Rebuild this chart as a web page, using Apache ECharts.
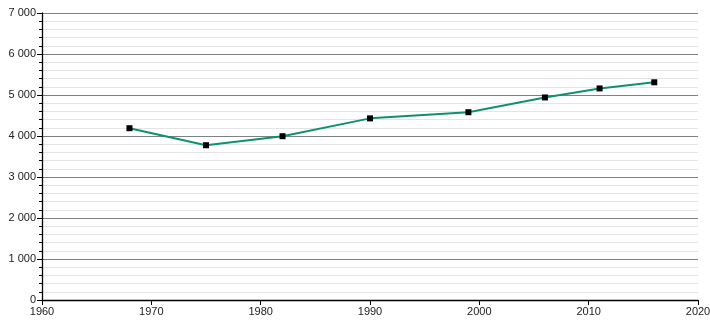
<!DOCTYPE html>
<html><head><meta charset="utf-8">
<script src="https://cdn.jsdelivr.net/npm/echarts@6/dist/echarts.min.js"></script>
<style>html,body{margin:0;padding:0;background:#fff}#c{width:710px;height:320px}</style>
</head><body><div id="c"></div>
<script>
const years = [1968, 1975, 1982, 1990, 1999, 2006, 2011, 2016];
const population = [4190, 3775, 3995, 4430, 4580, 4940, 5160, 5310];
const xTicks = [1960, 1970, 1980, 1990, 2000, 2010, 2020];
const yTicks = [0, 1000, 2000, 3000, 4000, 5000, 6000, 7000];

const chart = echarts.init(document.getElementById('c'), null, {renderer: 'canvas'});
const fmt = v => String(v).replace(/\B(?=(\d{3})+(?!\d))/g, ' ');
chart.setOption({
  animation: false,
  grid: {left: 42, right: 12, top: 13, bottom: 20, containLabel: false, outerBoundsMode: 'none'},
  xAxis: {
    type: 'value', min: xTicks[0], max: xTicks[xTicks.length - 1], interval: 10,
    axisLine: {lineStyle: {color: '#000', width: 1.3}},
    axisTick: {show: true, length: 5, lineStyle: {color: '#000'}},
    axisLabel: {color: '#222', fontFamily: 'Liberation Sans, Arial, sans-serif', fontSize: 11, margin: 6, showMinLabel: true, showMaxLabel: true, formatter: v => String(v)},
    splitLine: {show: false}
  },
  yAxis: {
    type: 'value', min: yTicks[0], max: yTicks[yTicks.length - 1], interval: 1000,
    axisLine: {show: true, lineStyle: {color: '#000', width: 1.3}},
    axisTick: {show: true, length: 5, lineStyle: {color: '#000'}},
    minorTick: {show: true, splitNumber: 5, length: 3, lineStyle: {color: '#000'}},
    axisLabel: {color: '#222', fontFamily: 'Liberation Sans, Arial, sans-serif', fontSize: 11, margin: 6, formatter: fmt},
    splitLine: {show: true, lineStyle: {color: '#808080', width: 1}},
    minorSplitLine: {show: true, lineStyle: {color: '#e4e4e4', width: 1}}
  },
  series: [{
    type: 'line',
    data: years.map((y, i) => [y, population[i]]),
    lineStyle: {color: '#0f9070', width: 2},
    symbol: 'rect', symbolSize: 6,
    itemStyle: {color: '#000', borderWidth: 0},
    z: 5
  }]
});
</script></body></html>
